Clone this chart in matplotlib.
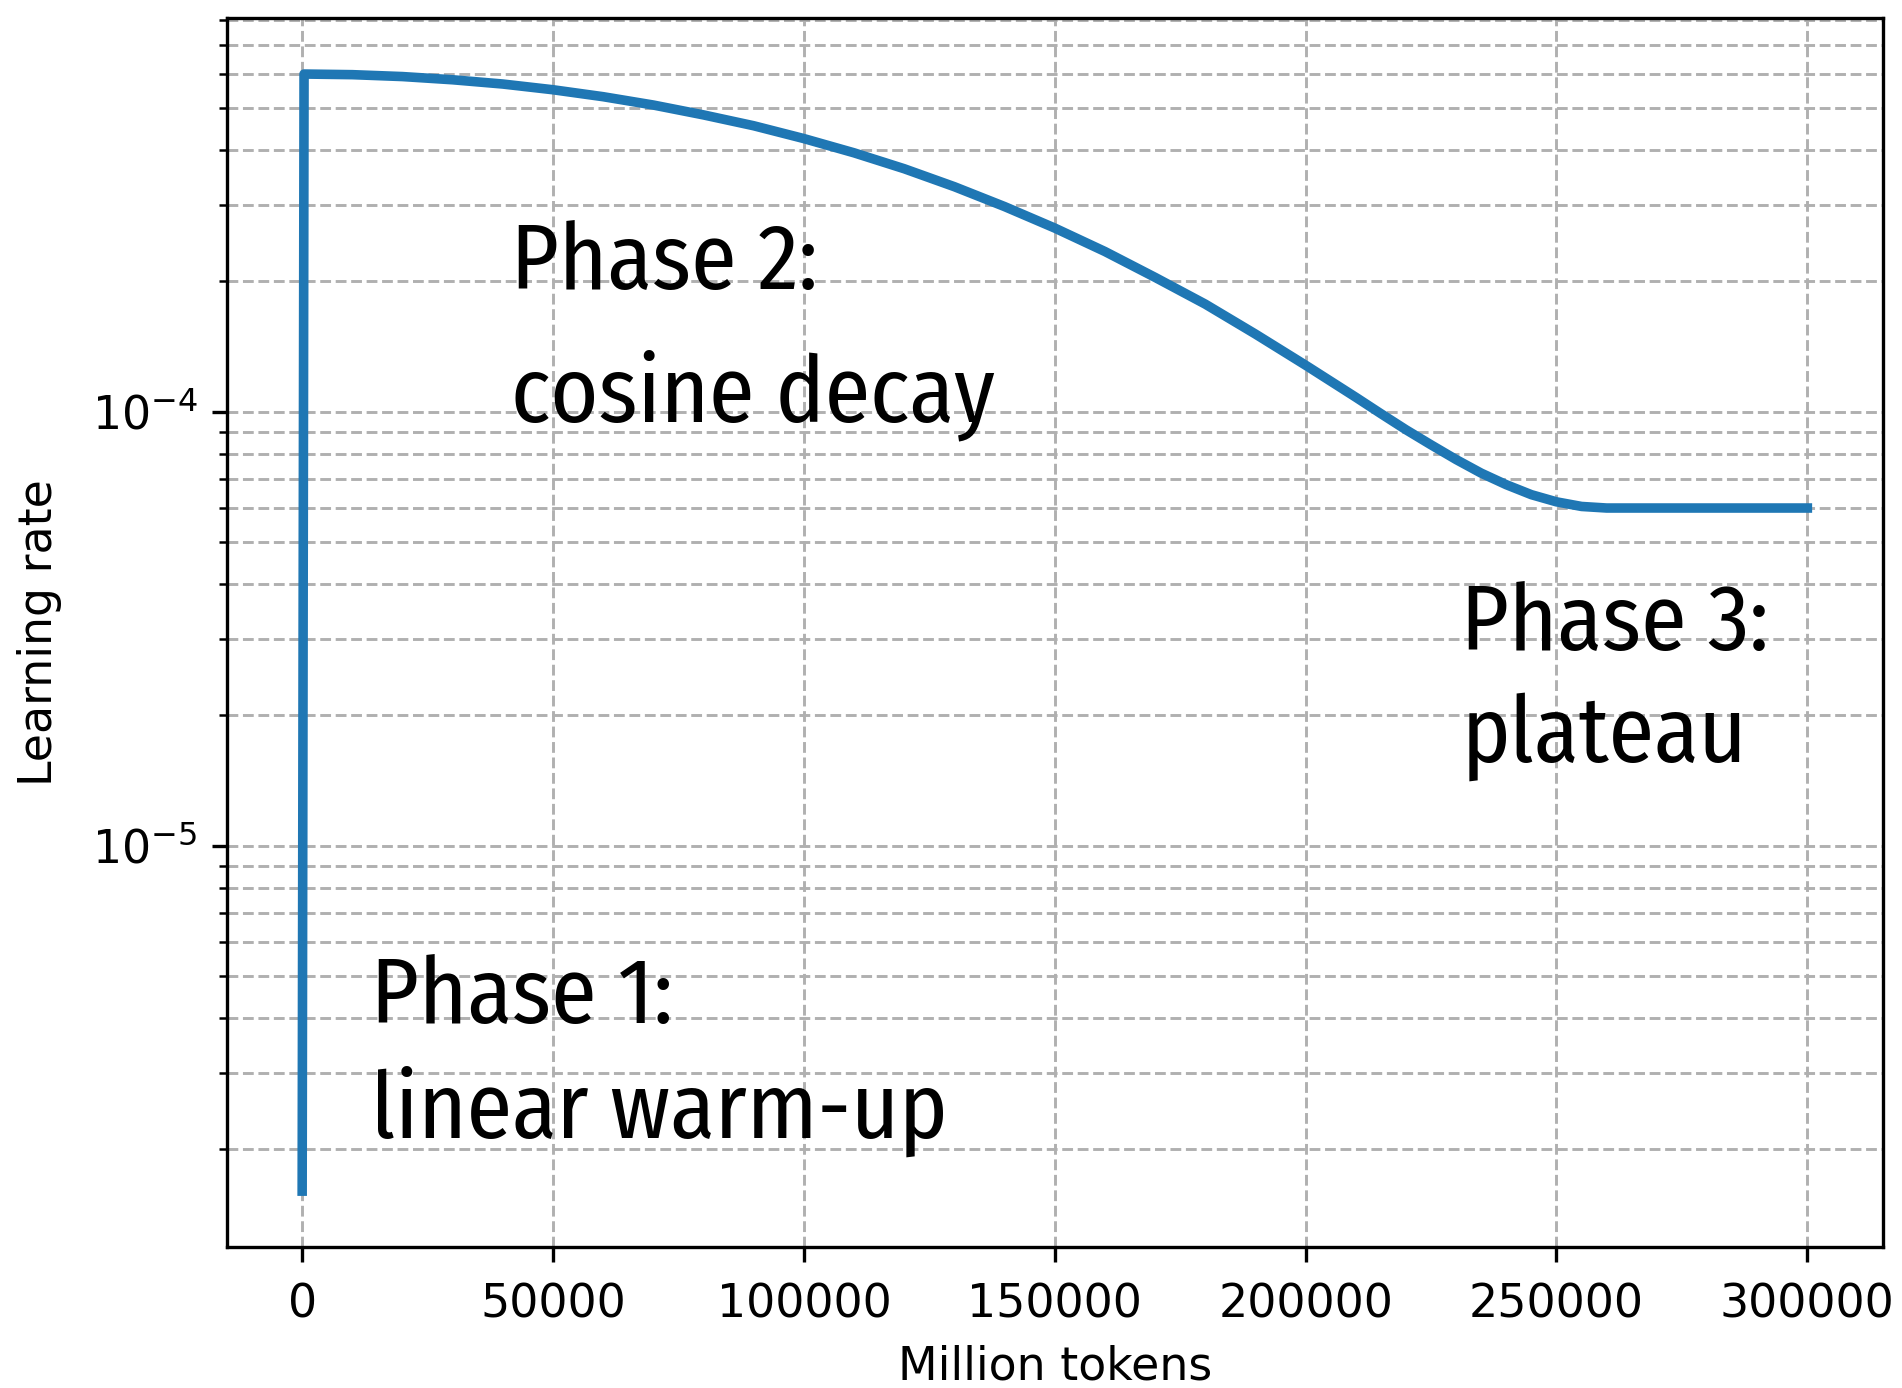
import matplotlib
matplotlib.use("Agg")
import matplotlib.pyplot as plt

# learning rate schedule (x in million tokens)
tokens = [1, 375, 10000, 20000, 30000, 40000, 50000, 60000, 70000, 80000,
          90000, 100000, 110000, 120000, 130000, 140000, 150000, 160000,
          170000, 180000, 190000, 200000, 210000, 215000, 220000, 225000,
          230000, 235000, 240000, 245000, 250000, 255000, 260000, 300000]
lr = [1.6e-6, 6.0e-4, 5.98e-4, 5.92e-4, 5.82e-4, 5.69e-4, 5.52e-4, 5.32e-4,
      5.09e-4, 4.83e-4, 4.56e-4, 4.26e-4, 3.95e-4, 3.63e-4, 3.30e-4, 2.97e-4,
      2.65e-4, 2.34e-4, 2.04e-4, 1.77e-4, 1.51e-4, 1.28e-4, 1.08e-4, 9.90e-5,
      9.09e-5, 8.39e-5, 7.76e-5, 7.22e-5, 6.79e-5, 6.44e-5, 6.20e-5, 6.05e-5,
      6.0e-5, 6.0e-5]

phase_labels = [("Phase 1:", "linear warm-up"),
                ("Phase 2:", "cosine decay"),
                ("Phase 3:", "plateau")]
label_x = [13800, 41600, 231000]
label_y1 = [3.9e-6, 1.92e-4, 2.82e-5]
label_y2 = [2.12e-6, 9.5e-5, 1.56e-5]

ann_family = ["Fira Sans Condensed", "PT Sans Narrow", "DejaVu Sans"]

fig = plt.figure(figsize=(1902 / 300, 1388 / 300), dpi=300)
ax = fig.add_axes([0.1193, 0.1016, 0.8705, 0.8853])

ax.plot(tokens, lr, color="tab:blue", lw=2.3)
ax.set_yscale("log")
ax.grid(True, which="both", ls="--", color="#b0b0b0", lw=0.7)
ax.set_xlabel("Million tokens", fontsize=11, labelpad=4)
ax.set_ylabel("Learning rate", fontsize=11, labelpad=7)
ax.tick_params(labelsize=11)
ax.tick_params(axis="x", pad=5)

for (l1, l2), x, y1, y2 in zip(phase_labels, label_x, label_y1, label_y2):
    ax.text(x, y1, l1, fontsize=22, family=ann_family, va="baseline")
    ax.text(x, y2, l2, fontsize=22, family=ann_family, va="baseline")

fig.savefig("out.png", dpi=300)
